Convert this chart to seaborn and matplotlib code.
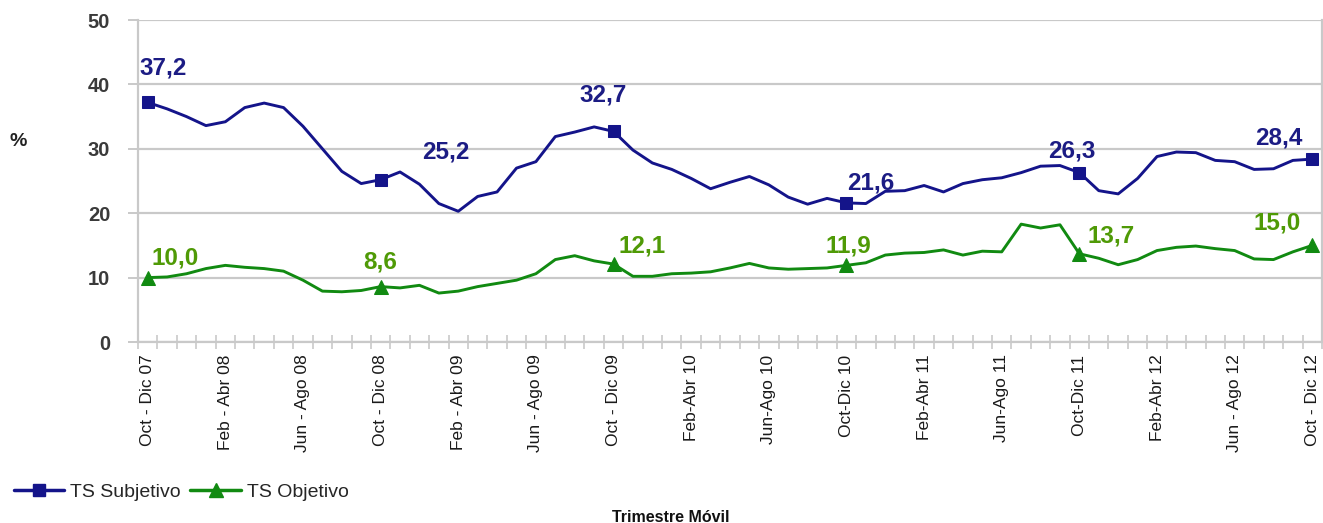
import numpy as np
import pandas as pd
import matplotlib
matplotlib.use("Agg")
import matplotlib.pyplot as plt
import seaborn as sns
from matplotlib.lines import Line2D

# Moving-quarter labels shown on the x axis (every 4th quarter)
tick_labels = [
    "Oct - Dic 07", "Feb - Abr 08", "Jun - Ago 08", "Oct - Dic 08",
    "Feb - Abr 09", "Jun - Ago 09", "Oct - Dic 09", "Feb-Abr 10",
    "Jun-Ago 10", "Oct-Dic 10", "Feb-Abr 11", "Jun-Ago 11",
    "Oct-Dic 11", "Feb-Abr 12", "Jun - Ago 12", "Oct - Dic 12",
]

# Monthly moving-quarter rates (%), Oct-Dic 07 .. Oct-Dic 12
ts_subjetivo = [
    37.2, 36.2, 35.0, 33.6, 34.2, 36.4, 37.1, 36.4, 33.5, 30.0,
    26.5, 24.6, 25.2, 26.4, 24.5, 21.5, 20.3, 22.6, 23.3, 27.0,
    28.0, 31.9, 32.6, 33.4, 32.7, 29.8, 27.8, 26.8, 25.4, 23.8,
    24.8, 25.7, 24.4, 22.5, 21.4, 22.3, 21.6, 21.5, 23.4, 23.5,
    24.3, 23.3, 24.6, 25.2, 25.5, 26.3, 27.3, 27.4, 26.3, 23.5,
    23.0, 25.4, 28.8, 29.5, 29.4, 28.2, 28.0, 26.8, 26.9, 28.2,
    28.4,
]
ts_objetivo = [
    10.0, 10.1, 10.6, 11.4, 11.9, 11.6, 11.4, 11.0, 9.6, 7.9,
    7.8, 8.0, 8.6, 8.4, 8.8, 7.6, 7.9, 8.6, 9.1, 9.6,
    10.6, 12.8, 13.4, 12.6, 12.1, 10.2, 10.2, 10.6, 10.7, 10.9,
    11.5, 12.2, 11.5, 11.3, 11.4, 11.5, 11.9, 12.3, 13.5, 13.8,
    13.9, 14.3, 13.5, 14.1, 14.0, 18.3, 17.7, 18.2, 13.7, 13.0,
    12.0, 12.8, 14.2, 14.7, 14.9, 14.5, 14.2, 12.9, 12.8, 14.0,
    15.0,
]

# Quarters that carry a marker and a value label (Oct-Dic of each year)
labelled = [0, 12, 24, 36, 48, 60]

# Label offsets in pixels (dx, dy) relative to each marked point
offs_subj = [(15, 34), (65, 28), (-10, 36), (24, 20), (-8, 22), (-33, 21)]
offs_obj = [(27, 20), (0, 25), (29, 18), (2, 19), (32, 18), (-35, 22)]

BLUE = "#14148a"
BLUE_TXT = "#1c1c84"
GREEN = "#118a11"
GREEN_TXT = "#4f9a06"
GRID = "#c9c9c9"

sns.set_theme(style="white")
plt.rcParams["font.family"] = ["Liberation Sans", "DejaVu Sans"]

fig = plt.figure(figsize=(13.23, 5.23), dpi=100)
ax = fig.add_axes([138 / 1323, 1 - 342 / 523, (1322 - 138) / 1323, (342 - 20) / 523])

df = pd.DataFrame({
    "mes": np.arange(len(ts_subjetivo)),
    "TS Subjetivo": ts_subjetivo,
    "TS Objetivo": ts_objetivo,
})

sns.lineplot(data=df, x="mes", y="TS Subjetivo", ax=ax, color=BLUE, lw=2.1,
             marker="s", markevery=labelled, markersize=9,
             markeredgecolor=BLUE, markerfacecolor=BLUE)
sns.lineplot(data=df, x="mes", y="TS Objetivo", ax=ax, color=GREEN, lw=2.1,
             marker="^", markevery=labelled, markersize=10,
             markeredgecolor=GREEN, markerfacecolor=GREEN)

def fmt(v):
    return f"{v:.1f}".replace(".", ",")

for i, (dx, dy) in zip(labelled, offs_subj):
    ax.annotate(fmt(ts_subjetivo[i]), (i, ts_subjetivo[i]), xytext=(dx, dy),
                textcoords="offset pixels", ha="center", va="center",
                fontsize=17.5, fontweight="bold", color=BLUE_TXT)
for i, (dx, dy) in zip(labelled, offs_obj):
    ax.annotate(fmt(ts_objetivo[i]), (i, ts_objetivo[i]), xytext=(dx, dy),
                textcoords="offset pixels", ha="center", va="center",
                fontsize=17.5, fontweight="bold", color=GREEN_TXT)

# Axes, grid and ticks
ax.set_xlim(-0.5, len(ts_subjetivo) - 0.5)
ax.set_ylim(0, 50)
ax.set_yticks(range(0, 51, 10))
ax.yaxis.grid(True, color=GRID, lw=1.6)
ax.xaxis.grid(False)
ax.set_axisbelow(True)

ax.set_xticks(range(0, len(ts_subjetivo), 4))
ax.set_xticklabels(tick_labels, rotation=90, fontsize=12.5, color="#1a1a1a")
ax.set_xticks(np.arange(-0.5, len(ts_subjetivo), 1), minor=True)
ax.tick_params(axis="x", which="major", length=0, pad=9)
ax.tick_params(axis="x", which="minor", length=10, width=1.2,
               direction="inout", color=GRID, bottom=True)
ax.tick_params(axis="y", which="major", length=7, width=1.4, color=GRID,
               direction="out", left=True, pad=13, labelsize=14.5,
               labelcolor="#3a3a3a")
for lab in ax.get_yticklabels():
    lab.set_fontweight("bold")

ax.set_xlabel("")
ax.set_ylabel("")
for side in ("left", "bottom", "right"):
    ax.spines[side].set_color(GRID)
    ax.spines[side].set_linewidth(1.6)
ax.spines["top"].set_visible(False)

fig.text(18 / 1323, 1 - 141 / 523, "%", fontsize=14, fontweight="bold",
         color="#222222", ha="center", va="center")
fig.text(671 / 1323, 1 - 517 / 523, "Trimestre Móvil", fontsize=11.5,
         fontweight="bold", color="#111111", ha="center", va="center")

handles = [
    Line2D([], [], color=BLUE, lw=2.5, marker="s", markersize=9),
    Line2D([], [], color=GREEN, lw=2.5, marker="^", markersize=10),
]
fig.legend(handles, ["TS Subjetivo", "TS Objetivo"], loc="center left",
           bbox_to_anchor=(0.0, 1 - 492 / 523), ncol=2, frameon=False,
           fontsize=14, handlelength=2.6, handletextpad=0.3,
           columnspacing=0.5, borderpad=0.2)

fig.savefig("out.png", dpi=100)
